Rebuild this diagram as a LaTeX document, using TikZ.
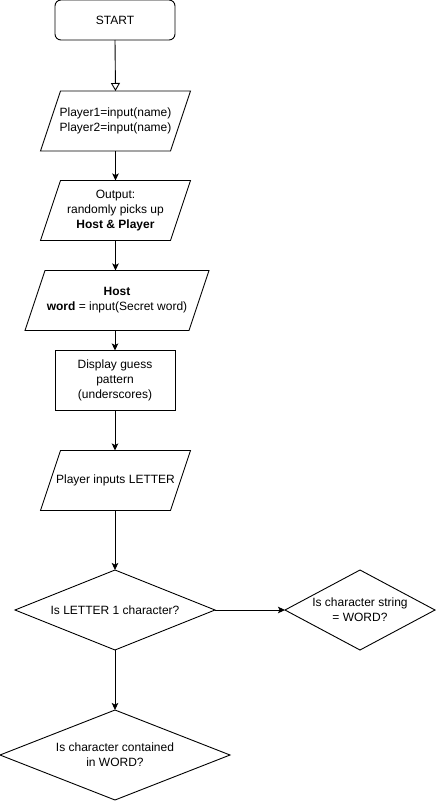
\documentclass[tikz,border=0pt]{standalone}
\usepackage{fontspec}
\setmainfont{Liberation Sans}
\usetikzlibrary{arrows.meta}
\begin{document}
\begin{tikzpicture}[x=1pt,y=-1pt,
  box/.style={draw=none,inner sep=0pt,outer sep=0pt,align=center,font=\fontsize{12}{14.8}\selectfont},
  outline/.style={draw=black,line width=0.9pt,line join=miter},
  conn/.style={draw=black,line width=0.9pt,-{Stealth[length=7pt,width=6.5pt,inset=1.5pt]}},
  openconn/.style={draw=black,line width=0.9pt,-{Triangle[open,length=8pt,width=9pt,fill=white]}}
]
\useasboundingbox (0,0) rectangle (436,801);
\fill[white] (0,0) rectangle (436,801);

% START
\node[box,minimum width=120pt,minimum height=40pt] (start) at (115,20) {START};
\draw[outline,rounded corners=6pt] (start.north west) rectangle (start.south east);

% P1
\node[box,minimum width=150pt,minimum height=60pt] (p1) at (115.5,121) {Player1=input(name)\\Player2=input(name)};
\draw[outline] ([xshift=20pt]p1.north west) -- (p1.north east) -- ([xshift=-20pt]p1.south east) -- (p1.south west) -- cycle;

% P2
\node[box,minimum width=150pt,minimum height=60pt] (p2) at (115.5,210.5) {Output:\\randomly picks up\\\textbf{Host \& Player}};
\draw[outline] ([xshift=20pt]p2.north west) -- (p2.north east) -- ([xshift=-20pt]p2.south east) -- (p2.south west) -- cycle;

% P3
\node[box,minimum width=184pt,minimum height=60pt] (p3) at (117,300.5) {\textbf{Host}\\\textbf{word} = input(Secret word)};
\draw[outline] ([xshift=20pt]p3.north west) -- (p3.north east) -- ([xshift=-20pt]p3.south east) -- (p3.south west) -- cycle;

% Rect
\node[box,minimum width=120pt,minimum height=60pt] (disp) at (115,380.5) {Display guess\\pattern\\(underscores)};
\draw[outline] (disp.north west) rectangle (disp.south east);

% P4
\node[box,minimum width=150pt,minimum height=60pt] (p4) at (115.5,480.5) {Player inputs LETTER};
\draw[outline] ([xshift=20pt]p4.north west) -- (p4.north east) -- ([xshift=-20pt]p4.south east) -- (p4.south west) -- cycle;

% D1
\node[box,minimum width=200pt,minimum height=80pt] (d1) at (115,610) {Is LETTER 1 character?};
\draw[outline] (d1.north) -- (d1.east) -- (d1.south) -- (d1.west) -- cycle;

% D2
\node[box,minimum width=150pt,minimum height=80pt] (d2) at (360,610) {Is character string\\= WORD?};
\draw[outline] (d2.north) -- (d2.east) -- (d2.south) -- (d2.west) -- cycle;

% D3
\node[box,minimum width=230pt,minimum height=90pt] (d3) at (115,755) {Is character contained\\in WORD?};
\draw[outline] (d3.north) -- (d3.east) -- (d3.south) -- (d3.west) -- cycle;

% connectors
\draw[openconn] (start.south) -- (p1.north);
\draw[conn] (p1.south) -- (p2.north);
\draw[conn] (p2.south) -- (p3.north -| p2.south);
\draw[conn] (p3.south -| disp.north) -- (disp.north);
\draw[conn] (disp.south) -- (p4.north -| disp.south);
\draw[conn] (p4.south -| d1.north) -- (d1.north);
\draw[conn] (d1.east) -- (d2.west);
\draw[conn] (d1.south) -- (d3.north);
\end{tikzpicture}
\end{document}
